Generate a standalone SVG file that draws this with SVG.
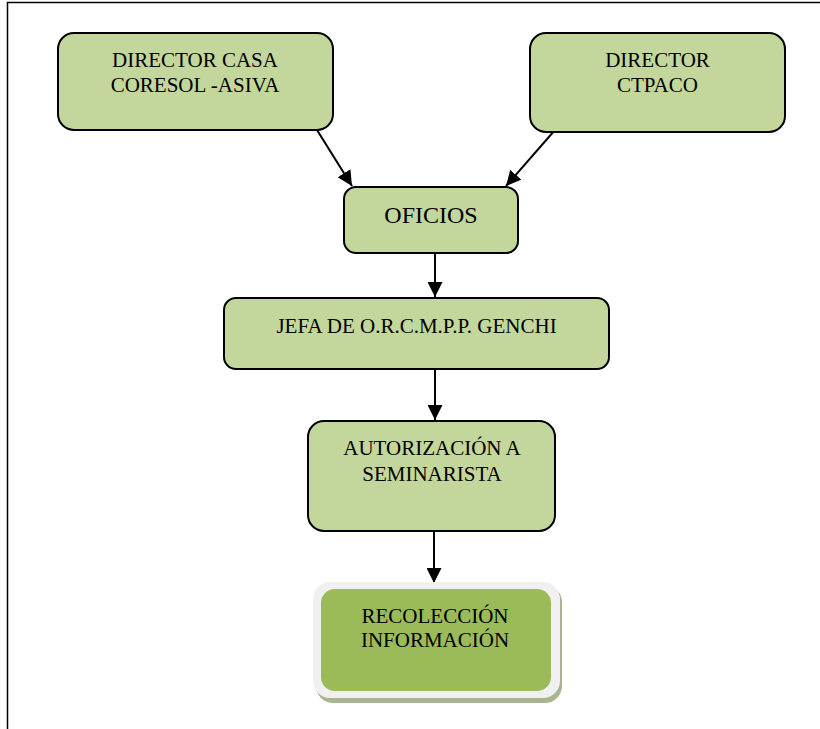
<svg xmlns="http://www.w3.org/2000/svg" width="820" height="729" viewBox="0 0 820 729">
<defs>
<marker id="ah" viewBox="0 0 10 10" refX="10" refY="5" markerWidth="7.5" markerHeight="7.5" markerUnits="strokeWidth" orient="auto">
<path d="M0,0 L10,5 L0,10 z" fill="#000"/>
</marker>
<style>
.box{fill:#c3d69b;stroke:#000;stroke-width:2}
.t{font-family:"Liberation Serif","Times New Roman",serif;font-size:21px;fill:#000;text-anchor:middle}
.c{stroke:#000;stroke-width:2;fill:none;marker-end:url(#ah)}
</style>
</defs>
<rect width="820" height="729" fill="#fff"/>
<g id="frame" fill="none" stroke="#000" stroke-width="1.5">
<path d="M7.5,729 V2.5 H820"/>
</g>
<g id="connectors">
<line class="c" x1="317" y1="130" x2="352" y2="186"/>
<line class="c" x1="555" y1="130" x2="506" y2="186"/>
<line class="c" x1="435" y1="253" x2="435" y2="297"/>
<line class="c" x1="435" y1="369" x2="435" y2="420"/>
<line class="c" x1="434" y1="531" x2="434" y2="583"/>
</g>
<g id="n1">
<rect class="box" x="58" y="33" width="275" height="97" rx="16"/>
<text class="t" x="195" y="67">DIRECTOR CASA</text>
<text class="t" x="195" y="92">CORESOL -ASIVA</text>
</g>
<g id="n2">
<rect class="box" x="530" y="33" width="255" height="99" rx="16"/>
<text class="t" x="657.5" y="67">DIRECTOR</text>
<text class="t" x="657.5" y="92">CTPACO</text>
</g>
<g id="n3">
<rect class="box" x="344" y="187" width="174" height="66" rx="12"/>
<text class="t" x="431" y="222.5" style="font-size:24px">OFICIOS</text>
</g>
<g id="n4">
<rect class="box" x="224" y="298" width="385" height="71" rx="12"/>
<text class="t" x="416.5" y="332.5">JEFA DE O.R.C.M.P.P. GENCHI</text>
</g>
<g id="n5">
<rect class="box" x="308" y="421" width="247" height="110" rx="16"/>
<text class="t" x="432" y="455">AUTORIZACIÓN A</text>
<text class="t" x="432" y="481">SEMINARISTA</text>
</g>
<g id="n6">
<rect x="316" y="585" width="246" height="118" rx="17" fill="#a8b592"/>
<rect x="313" y="582" width="247" height="116" rx="17" fill="#f0f0f0"/>
<rect x="321" y="589" width="230" height="102" rx="14" fill="#9bbb59"/>
<text class="t" x="435" y="623">RECOLECCIÓN</text>
<text class="t" x="435" y="647">INFORMACIÓN</text>
</g>
</svg>
